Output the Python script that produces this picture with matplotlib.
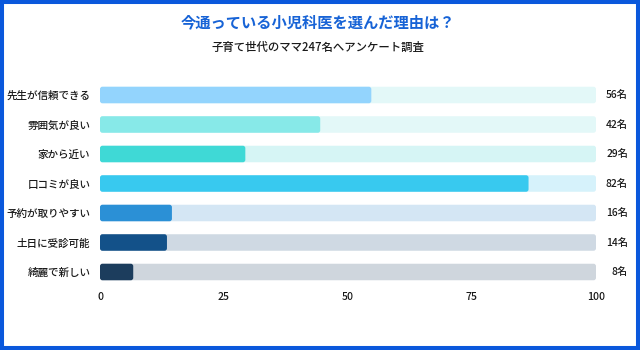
import matplotlib
matplotlib.use("Agg")
import matplotlib.pyplot as plt
from matplotlib.patches import FancyBboxPatch, Rectangle
import matplotlib.transforms as mtransforms

plt.rcParams['font.family'] = ['Noto Sans CJK JP', 'DejaVu Sans']

categories = ["先生が信頼できる", "雰囲気が良い", "家から近い", "口コミが良い",
              "予約が取りやすい", "土日に受診可能", "綺麗で新しい"]
counts = [56, 42, 29, 82, 16, 14, 8]
# bar lengths as drawn in the picture (scale 0-100)
bar_lengths = [54.7, 44.4, 29.3, 86.4, 14.5, 13.5, 6.7]
bar_colors = ["#93d4fd", "#87e9e8", "#3fd9d6", "#38c9ef", "#2b90d6", "#135189", "#1c3d5d"]
track_colors = ["#e3f8f8", "#e3f8f8", "#d6f5f5", "#d6f2fb", "#d4e6f4", "#cfd9e3", "#cfd6dd"]
xticks = [0, 25, 50, 75, 100]

fig = plt.figure(figsize=(6.4, 3.5), dpi=100)
ax = fig.add_axes([100 / 640, 1 - 286.75 / 350, 496 / 640, 206.5 / 350])

ypos = list(range(len(categories)))
bar_h = 0.56
px_x = 496 / 100.0
px_y = 206.5 / 7.0
aspect = px_x / px_y

def rounded_bar(y, length, color, z):
    p = FancyBboxPatch((0, y - bar_h / 2), length, bar_h,
                       boxstyle="round,pad=0,rounding_size=0.5",
                       mutation_aspect=aspect, fc=color, ec="none", zorder=z)
    ax.add_patch(p)

for y, tc in zip(ypos, track_colors):
    rounded_bar(y, 100, tc, 1)
for y, v, c in zip(ypos, bar_lengths, bar_colors):
    rounded_bar(y, v, c, 2)

ax.set_xlim(0, 100)
ax.set_ylim(len(categories) - 0.5, -0.5)
ax.set_yticks(ypos)
ax.set_yticklabels(categories, fontsize=7.6, color="#1a1a1a", fontweight="medium")
ax.set_xticks(xticks)
ax.set_xticklabels([str(t) for t in xticks], fontsize=7.6, color="#1a1a1a", fontweight="medium")
ax.tick_params(axis="both", length=0)
ax.tick_params(axis="y", pad=7)
ax.tick_params(axis="x", pad=4)
for s in ax.spines.values():
    s.set_visible(False)

trans = mtransforms.blended_transform_factory(ax.transAxes, ax.transData)
for y, n in zip(ypos, counts):
    ax.text(1.0645, y, f"{n}名", transform=trans, ha="right", va="center",
            fontsize=7.4, color="#1a1a1a", fontweight="medium")

fig.text(0.497, 0.937, "今通っている小児科医を選んだ理由は？", ha="center", va="center",
         fontsize=11, fontweight="bold", color="#1763d6")
fig.text(0.497, 0.866, "子育て世代のママ247名へアンケート調査", ha="center", va="center",
         fontsize=8.2, color="#1a1a1a", fontweight="medium")

fig.patches.append(Rectangle((0, 0), 1, 1, transform=fig.transFigure, fill=False,
                             ec="#0a58dc", lw=5.8, zorder=10))

fig.savefig("out.png", dpi=100)
